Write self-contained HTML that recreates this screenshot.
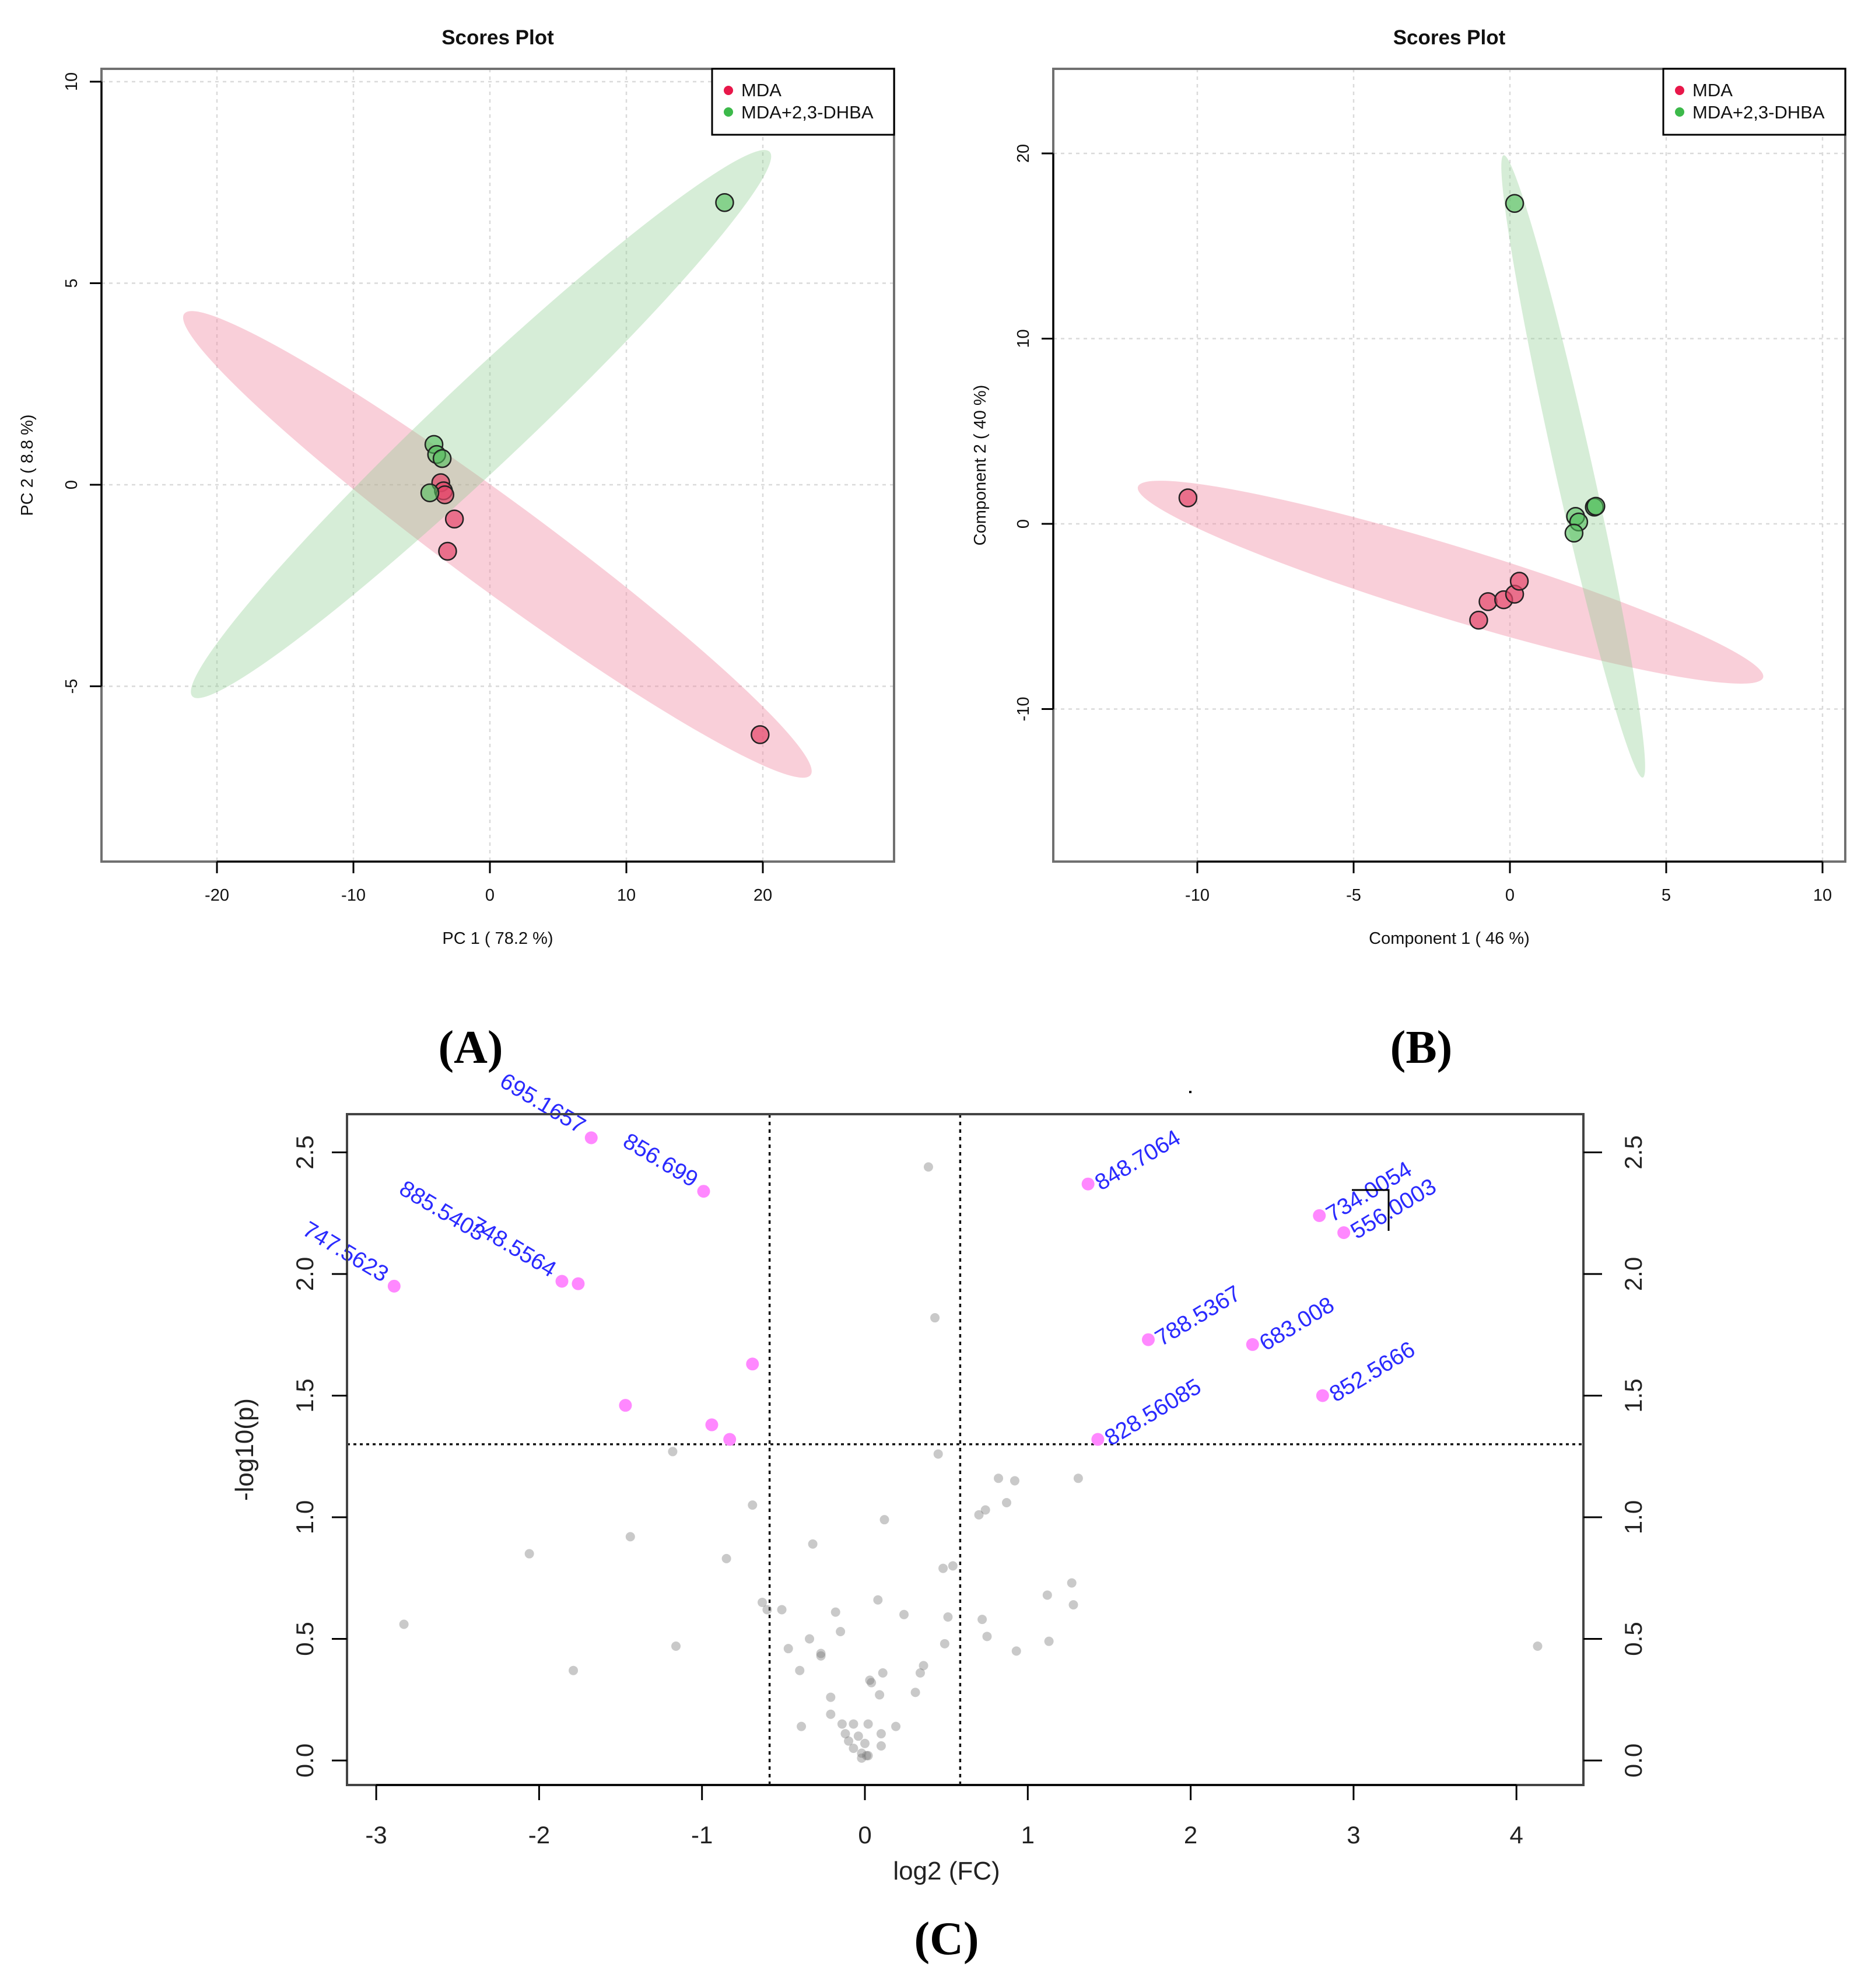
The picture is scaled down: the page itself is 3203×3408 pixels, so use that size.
<!DOCTYPE html>
<html><head><meta charset="utf-8">
<style>
html,body{margin:0;padding:0;background:#fff;}
svg{display:block;font-family:"Liberation Sans",sans-serif;}
</style></head>
<body>
<svg id="fig" width="3203" height="3408" viewBox="0 0 3203 3408" xmlns="http://www.w3.org/2000/svg">
</svg>
<script>
// ---------- Panel A data (PCA) ----------
const aRedX = [-3.6, -3.4, -3.3, -2.6, -3.1, 19.8];
const aRedY = [0.05, -0.15, -0.25, -0.85, -1.65, -6.2];
const aGreenX = [17.2, -4.1, -3.9, -3.5, -4.4];
const aGreenY = [7.0, 1.0, 0.75, 0.65, -0.2];
const aXTicks = [-20, -10, 0, 10, 20];
const aYTicks = [-5, 0, 5, 10];
const aRedEll = [-22.4, 4.24, 23.5, -7.2];
const aGreenEll = [-21.8, -5.25, 20.5, 8.26];
// ---------- Panel B data (PLS-DA) ----------
const bRedX = [-10.3, -1.0, -0.7, -0.2, 0.15, 0.3];
const bRedY = [1.4, -5.2, -4.2, -4.1, -3.8, -3.1];
const bGreenX = [0.15, 2.1, 2.2, 2.05, 2.7, 2.75];
const bGreenY = [17.3, 0.4, 0.1, -0.5, 0.9, 0.95];
const bXTicks = [-10, -5, 0, 5, 10];
const bYTicks = [-10, 0, 10, 20];
const bRedEll = [-11.9, 2.0, 8.1, -8.3];
const bGreenEll = [-0.2, 19.9, 4.25, -13.7];
// ---------- Panel C data (volcano) ----------
const cSigX = [-1.68, -0.99, -1.86, -1.76, -2.89, -0.69, -1.47, -0.94, -0.83, 1.37, 2.79, 2.94, 1.74, 2.38, 2.81, 1.43];
const cSigY = [2.56, 2.34, 1.97, 1.96, 1.95, 1.63, 1.46, 1.38, 1.32, 2.37, 2.24, 2.17, 1.73, 1.71, 1.50, 1.32];
const cSigLabels = ["695.1657", "856.699", "748.5564", "885.5403", "747.5623", "", "", "", "", "848.7064", "734.0054", "556.0003", "788.5367", "683.008", "852.5666", "828.56085"];
const cGrayX = [0.39,0.43,0.45,-1.18,-0.69,0.82,0.92,1.31,0.12,0.70,0.74,0.87,-2.06,-1.44,-0.85,-0.32,0.48,0.54,-0.63,-0.60,-0.51,-0.18,0.08,0.24,-2.83,-1.16,-1.79,-0.47,-0.34,-0.27,-0.27,-0.15,0.51,0.72,0.75,0.49,0.93,1.12,1.27,1.28,1.13,4.13,-0.40,0.03,0.04,0.11,0.36,0.34,-0.21,0.09,0.31,-0.21,-0.39,-0.14,-0.07,0.02,0.19,-0.12,-0.10,-0.04,0.00,-0.07,0.10,-0.02,0.01,0.02,0.10,-0.02];
const cGrayY = [2.44,1.82,1.26,1.27,1.05,1.16,1.15,1.16,0.99,1.01,1.03,1.06,0.85,0.92,0.83,0.89,0.79,0.80,0.65,0.62,0.62,0.61,0.66,0.60,0.56,0.47,0.37,0.46,0.50,0.44,0.43,0.53,0.59,0.58,0.51,0.48,0.45,0.68,0.73,0.64,0.49,0.47,0.37,0.33,0.32,0.36,0.39,0.36,0.26,0.27,0.28,0.19,0.14,0.15,0.15,0.15,0.14,0.11,0.08,0.10,0.07,0.05,0.11,0.03,0.02,0.02,0.06,0.01];
const cXTicks = [-3, -2, -1, 0, 1, 2, 3, 4];
const cYTicks = ["0.0", "0.5", "1.0", "1.5", "2.0", "2.5"];
const cFcThresh = [-0.585, 0.585];
const cPThresh = [1.3];

const NS = "http://www.w3.org/2000/svg";
const svg = document.getElementById('fig');
function mk(tag, attrs, parent, text) {
  const e = document.createElementNS(NS, tag);
  for (const k in attrs) e.setAttribute(k, attrs[k]);
  if (text !== undefined) e.textContent = text;
  (parent || svg).appendChild(e);
  return e;
}

const ax = v => 840 + 23.4 * v, ay = v => 831 - 69.1 * v;
const bx = v => 2589 + 53.6 * v, by = v => 898 - 31.75 * v;
const cx = v => 1483 + 279.3 * v, cy = v => 3018 - 417 * v;

function ellipse(g, e, sx, sy, semiMinor, fill, name) {
  const x1 = sx(e[0]), y1 = sy(e[1]), x2 = sx(e[2]), y2 = sy(e[3]);
  const mx = (x1 + x2) / 2, my = (y1 + y2) / 2;
  const L = Math.hypot(x2 - x1, y2 - y1) / 2;
  const ang = Math.atan2(y2 - y1, x2 - x1) * 180 / Math.PI;
  const el = mk('ellipse', {cx: mx, cy: my, rx: L, ry: semiMinor, fill: fill, transform: `rotate(${ang} ${mx} ${my})`}, g);
  
  
}

function scoresPanel(opt) {
  const g = mk('g', {});
  
  
  const [L, T, R, B] = opt.box;
  opt.xt.forEach(t => {
    const l = mk('line', {x1: opt.sx(t), x2: opt.sx(t), y1: T, y2: B, stroke: '#dadada', 'stroke-width': 2.5, 'stroke-dasharray': '6 7'}, g);
     
  });
  opt.yt.forEach(t => {
    const l = mk('line', {x1: L, x2: R, y1: opt.sy(t), y2: opt.sy(t), stroke: '#dadada', 'stroke-width': 2.5, 'stroke-dasharray': '6 7'}, g);
     
  });
  ellipse(g, opt.redEll, opt.sx, opt.sy, opt.redMinor, 'rgba(240,140,165,0.42)', 'mda-confidence-ellipse');
  ellipse(g, opt.greenEll, opt.sx, opt.sy, opt.greenMinor, 'rgba(140,205,145,0.36)', 'dhba-confidence-ellipse');
  opt.rx.forEach((v, i) => {
    const c = mk('circle', {cx: opt.sx(v), cy: opt.sy(opt.ry[i]), r: 15, fill: 'rgba(228,70,105,0.7)', stroke: '#222', 'stroke-width': 2.5}, g);
     
  });
  opt.gx.forEach((v, i) => {
    const c = mk('circle', {cx: opt.sx(v), cy: opt.sy(opt.gy[i]), r: 15, fill: 'rgba(80,190,90,0.6)', stroke: '#222', 'stroke-width': 2.5}, g);
     
  });
  const box = mk('rect', {x: L, y: T, width: R - L, height: B - T, fill: 'none', stroke: '#707070', 'stroke-width': 4}, g);
   
  const xa = mk('line', {x1: opt.sx(opt.xt[0]), x2: opt.sx(opt.xt[opt.xt.length - 1]), y1: B, y2: B, stroke: '#000', 'stroke-width': 3}, g);
   
  const ya = mk('line', {x1: L, x2: L, y1: opt.sy(opt.yt[0]), y2: opt.sy(opt.yt[opt.yt.length - 1]), stroke: '#000', 'stroke-width': 3}, g);
   
  opt.xt.forEach(t => {
    const x = opt.sx(t);
    const tk = mk('line', {x1: x, x2: x, y1: B, y2: B + 20, stroke: '#000', 'stroke-width': 3}, g);
     
    const tl = mk('text', {x: x, y: B + 67, 'font-size': 29, 'text-anchor': 'middle', fill: '#111'}, g, String(t));
     
  });
  opt.yt.forEach(t => {
    const y = opt.sy(t);
    const tk = mk('line', {x1: L - 20, x2: L, y1: y, y2: y, stroke: '#000', 'stroke-width': 3}, g);
     
    const tx = L - 42;
    const tl = mk('text', {x: tx, y: y, 'font-size': 29, 'text-anchor': 'middle', fill: '#111', transform: `rotate(-90 ${tx} ${y})`}, g, String(t));
     
  });
  const ti = mk('text', {x: (L + R) / 2, y: 76, 'font-size': 35, 'font-weight': 'bold', 'text-anchor': 'middle', fill: '#111'}, g, 'Scores Plot');
   
  const xl = mk('text', {x: (L + R) / 2, y: 1618, 'font-size': 29, 'text-anchor': 'middle', fill: '#111'}, g, opt.xlab);
   
  const yx = opt.ylabX, yy = (T + B) / 2;
  const yl = mk('text', {x: yx, y: yy, 'font-size': 29, 'text-anchor': 'middle', fill: '#111', transform: `rotate(-90 ${yx} ${yy})`}, g, opt.ylab);
   
  const lg = mk('g', {}, g);
   
  mk('rect', {x: R - 312, y: T, width: 312, height: 113, fill: '#fff', stroke: '#000', 'stroke-width': 3}, lg);
  const e1 = mk('g', {}, lg);
   
  mk('circle', {cx: R - 284, cy: T + 37, r: 8, fill: '#e8174a'}, e1);
  mk('text', {x: R - 262, y: T + 47, 'font-size': 31, fill: '#111'}, e1, 'MDA');
  const e2 = mk('g', {}, lg);
   
  mk('circle', {cx: R - 284, cy: T + 74, r: 8, fill: '#3cb94a'}, e2);
  mk('text', {x: R - 262, y: T + 85, 'font-size': 31, fill: '#111'}, e2, 'MDA+2,3-DHBA');
}

scoresPanel({name: 'panel-a-pca', box: [174, 118, 1533, 1477], sx: ax, sy: ay, xt: aXTicks, yt: aYTicks,
  rx: aRedX, ry: aRedY, gx: aGreenX, gy: aGreenY, redEll: aRedEll, greenEll: aGreenEll, redMinor: 76, greenMinor: 74,
  xlab: 'PC 1 ( 78.2 %)', ylab: 'PC 2 ( 8.8 %)', ylabX: 56});
scoresPanel({name: 'panel-b-plsda', box: [1806, 118, 3164, 1477], sx: bx, sy: by, xt: bXTicks, yt: bYTicks,
  rx: bRedX, ry: bRedY, gx: bGreenX, gy: bGreenY, redEll: bRedEll, greenEll: bGreenEll, redMinor: 62, greenMinor: 32,
  xlab: 'Component 1 ( 46 %)', ylab: 'Component 2 ( 40 %)', ylabX: 1690});

[['(A)', 807, 'panel-a-caption'], ['(B)', 2437, 'panel-b-caption']].forEach(p => {
  const t = mk('text', {x: p[1], y: 1822, 'font-size': 80, 'font-weight': 'bold', 'text-anchor': 'middle', 'font-family': '"Liberation Serif", serif', fill: '#000'}, svg, p[0]);
   
});

(function () {
  const g = mk('g', {});
   
  const L = 595, T = 1910, R = 2715, B = 3060;
  cFcThresh.forEach(v => {
    const l = mk('line', {x1: cx(v), x2: cx(v), y1: T, y2: B, stroke: '#111', 'stroke-width': 3.5, 'stroke-dasharray': '6 7'}, g);
     
  });
  cPThresh.forEach(v => {
    const l = mk('line', {x1: L, x2: R, y1: cy(v), y2: cy(v), stroke: '#111', 'stroke-width': 3.5, 'stroke-dasharray': '5 6'}, g);
     
  });
  cGrayX.forEach((v, i) => {
    const c = mk('circle', {cx: cx(v), cy: cy(cGrayY[i]), r: 8, fill: 'rgba(120,120,120,0.4)'}, g);
     
  });
  cSigX.forEach((v, i) => {
    const px = cx(v), py = cy(cSigY[i]);
    const c = mk('circle', {cx: px, cy: py, r: 11, fill: '#ff88ff'}, g);
     
    const lab = cSigLabels[i];
    if (!lab) return;
    let t;
    if (v < 0) {
      let ex = px - 20, ey = py - 6;
      if (lab === '885.5403') { ex -= 150; ey -= 66; }
      t = mk('text', {x: ex, y: ey, 'font-size': 39, 'text-anchor': 'end', fill: '#2a2aff', transform: `rotate(31 ${ex} ${ey})`}, g, lab);
    } else {
      const sx = px + 22, sy = py + 12;
      t = mk('text', {x: sx, y: sy, 'font-size': 39, 'text-anchor': 'start', fill: '#2a2aff', transform: `rotate(-31 ${sx} ${sy})`}, g, lab);
    }
     
  });
  const br = mk('polyline', {points: '2318,2040 2381,2040 2381,2110', fill: 'none', stroke: '#000', 'stroke-width': 3}, g);
   
  const dot = mk('rect', {x: 2039, y: 1870, width: 4, height: 4, fill: '#000'}, g);
   
  const box = mk('rect', {x: L, y: T, width: R - L, height: B - T, fill: 'none', stroke: '#444', 'stroke-width': 4}, g);
   
  const xa = mk('line', {x1: cx(cXTicks[0]), x2: cx(cXTicks[cXTicks.length - 1]), y1: B, y2: B, stroke: '#000', 'stroke-width': 3}, g);
   
  cXTicks.forEach(t => {
    const x = cx(t);
    const tk = mk('line', {x1: x, x2: x, y1: B, y2: B + 26, stroke: '#000', 'stroke-width': 3}, g);
     
    const tl = mk('text', {x: x, y: B + 100, 'font-size': 42, 'text-anchor': 'middle', fill: '#222'}, g, String(t));
     
  });
  cYTicks.forEach(t => {
    const y = cy(parseFloat(t));
    const tk1 = mk('line', {x1: L - 26, x2: L, y1: y, y2: y, stroke: '#000', 'stroke-width': 3}, g);
     
    const tk2 = mk('line', {x1: R, x2: R + 32, y1: y, y2: y, stroke: '#000', 'stroke-width': 3}, g);
     
    const lx = 537;
    const tl = mk('text', {x: lx, y: y, 'font-size': 42, 'text-anchor': 'middle', fill: '#222', transform: `rotate(-90 ${lx} ${y})`}, g, t);
     
    const rx = 2815;
    const tr = mk('text', {x: rx, y: y, 'font-size': 42, 'text-anchor': 'middle', fill: '#222', transform: `rotate(-90 ${rx} ${y})`}, g, t);
     
  });
  const xl = mk('text', {x: 1623, y: 3222, 'font-size': 44, 'text-anchor': 'middle', fill: '#222'}, g, 'log2 (FC)');
   
  const yl = mk('text', {x: 434, y: 2485, 'font-size': 44, 'text-anchor': 'middle', fill: '#222', transform: 'rotate(-90 434 2485)'}, g, '-log10(p)');
   
  const cap = mk('text', {x: 1623, y: 3350, 'font-size': 80, 'font-weight': 'bold', 'text-anchor': 'middle', 'font-family': '"Liberation Serif", serif', fill: '#000'}, svg, '(C)');
   
})();
</script>
</body></html>
